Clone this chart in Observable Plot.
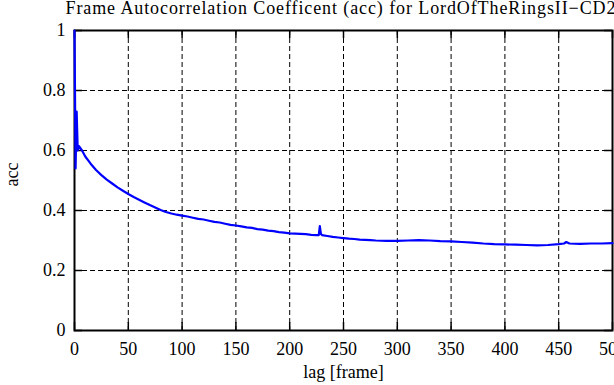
<!DOCTYPE html>
<html><head><meta charset="utf-8">
<script src="https://cdn.jsdelivr.net/npm/d3@7"></script>
<script src="https://cdn.jsdelivr.net/npm/@observablehq/plot@0.6"></script>
<style>html,body{margin:0;padding:0;background:#fff;overflow:hidden} svg{display:block;overflow:hidden}</style>
</head><body><div id="chart"></div>
<script>
const titleText = "Frame Autocorrelation Coefficent (acc) for LordOfTheRingsII\u2212CD2";
const xLabel = "lag [frame]";
const yLabel = "acc";
const xTicks = [0, 50, 100, 150, 200, 250, 300, 350, 400, 450, 500];
const yTicks = [0, 0.2, 0.4, 0.6, 0.8, 1];
const yTickLabels = ["0", "0.2", "0.4", "0.6", "0.8", "1"];

const lags = [0, 1, 2, 3, 4, 5, 7, 10, 15, 20, 25, 30, 35, 40, 45, 50, 55, 60, 65, 70, 75, 80, 85, 90, 95,
  100, 105, 110, 115, 120, 125, 130, 135, 140, 145, 150, 155, 160, 165, 170, 175, 180, 185, 190, 195,
  200, 205, 210, 215, 220, 225, 227, 228, 229, 230, 235, 240, 245, 250, 255, 260, 265, 270, 275, 280,
  290, 300, 310, 320, 330, 340, 350, 360, 370, 380, 390, 400, 410, 420, 430, 440, 450, 455, 457, 460,
  470, 480, 490, 500];
const acc = [1.0, 0.54, 0.73, 0.60, 0.615, 0.61, 0.60, 0.58, 0.556, 0.535, 0.518, 0.503, 0.49, 0.477, 0.466,
  0.455, 0.445, 0.436, 0.427, 0.418, 0.41, 0.402, 0.395, 0.39, 0.386,
  0.383, 0.38, 0.376, 0.372, 0.37, 0.366, 0.362, 0.36, 0.356, 0.352, 0.35, 0.347, 0.344, 0.342, 0.338,
  0.336, 0.333, 0.331, 0.328, 0.326,
  0.324, 0.323, 0.322, 0.321, 0.319, 0.318, 0.318, 0.348, 0.322, 0.318, 0.315, 0.312, 0.31, 0.308,
  0.306, 0.305, 0.303, 0.302, 0.301, 0.300,
  0.299, 0.299, 0.300, 0.301, 0.300, 0.298, 0.297, 0.295, 0.293, 0.29, 0.288, 0.287, 0.286, 0.285,
  0.284, 0.285, 0.288, 0.29, 0.295, 0.29,
  0.289, 0.29, 0.29, 0.291];

const data = lags.map((l, i) => ({lag: l, acc: acc[i]}));

const W = 614, H = 385, mL = 74, mR = 2, mT = 30, mB = 55;
const pw = W - mL - mR, ph = H - mT - mB;
const font = "Liberation Serif, Times New Roman, serif";

const chart = Plot.plot({
  width: W, height: H,
  marginLeft: mL, marginRight: mR, marginTop: mT, marginBottom: mB,
  style: {fontFamily: font, fontSize: "18px", background: "white", color: "black", overflow: "hidden"},
  x: {domain: [0, 500]},
  y: {domain: [0, 1]},
  marks: [
    Plot.gridX(xTicks.slice(1, -1), {stroke: "black", strokeOpacity: 1, strokeWidth: 1, strokeDasharray: "5,3"}),
    Plot.gridY(yTicks.slice(1, -1), {stroke: "black", strokeOpacity: 1, strokeWidth: 1, strokeDasharray: "5,3"}),
    Plot.ruleX(xTicks, {stroke: "black", strokeWidth: 1.5, insetTop: ph - 8}),
    Plot.ruleX(xTicks, {stroke: "black", strokeWidth: 1.5, insetBottom: ph - 8}),
    Plot.ruleY(yTicks, {stroke: "black", strokeWidth: 1.5, insetRight: pw - 8}),
    Plot.ruleY(yTicks, {stroke: "black", strokeWidth: 1.5, insetLeft: pw - 8}),
    Plot.frame({stroke: "black", strokeWidth: 2}),
    Plot.axisX({ticks: xTicks, tickSize: 0, tickPadding: 12, label: null, fontSize: 18, tickFormat: d => String(d)}),
    Plot.axisY({ticks: yTicks, tickSize: 0, tickPadding: 9, label: null, fontSize: 18,
      tickFormat: d => yTickLabels[yTicks.indexOf(d)] ?? String(d)}),
    Plot.line(data, {x: "lag", y: "acc", stroke: "#0000ff", strokeWidth: 2.2}),
    Plot.text([titleText], {frameAnchor: "top-left", textAnchor: "start", lineAnchor: "middle", dx: 65 - mL, dy: -22, fontSize: 18, fill: "black"}),
    Plot.text([xLabel], {frameAnchor: "bottom", lineAnchor: "middle", dy: 42, fontSize: 18, fill: "black"}),
    Plot.text([yLabel], {frameAnchor: "left", lineAnchor: "middle", rotate: -90, dx: -62, dy: 6, fontSize: 18, fill: "black"})
  ]
});
d3.select(chart).selectAll("text")
  .filter(function () { return this.textContent === titleText; })
  .style("letter-spacing", "0.9px");
document.getElementById("chart").appendChild(chart);
</script>
</body></html>
